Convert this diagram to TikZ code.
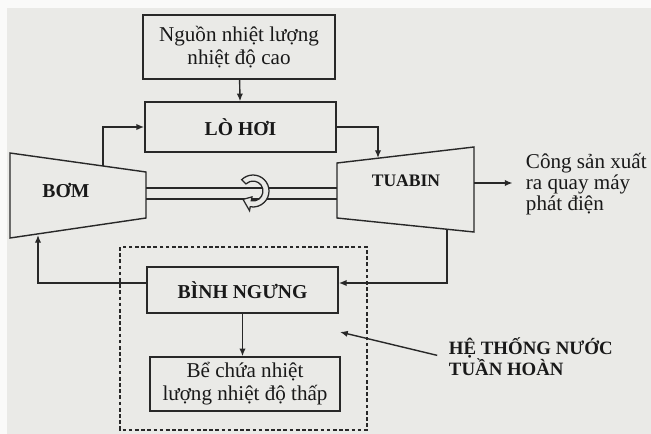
\documentclass[tikz,border=0pt]{standalone}
\usepackage{fontspec}
\setmainfont{Liberation Serif}
\usetikzlibrary{arrows.meta,calc}

\definecolor{cyclePaper}{RGB}{234,234,231}
\definecolor{cycleEdge}{RGB}{250,250,249}
\definecolor{cycleInk}{RGB}{40,40,40}
\definecolor{cycleText}{RGB}{25,25,25}

\begin{document}
\begin{tikzpicture}[x=.025cm,y=-.025cm,
      box/.style={draw=cycleInk, line width=1pt, align=center,
        font=\fontsize{15}{16.5}\selectfont, text=cycleText, inner sep=2pt},
      title/.style={font=\fontsize{14}{15}\selectfont\bfseries, text=cycleText},
      note/.style={font=\fontsize{15}{15}\selectfont, text=cycleText,
        align=left, anchor=west},
      machine/.style={draw=cycleInk, line width=1pt},
      shaft/.style={draw=cycleInk, line width=1pt},
      flow/.style={draw=cycleInk, line width=1pt,
        -{Latex[length=5.5pt,width=4.5pt]}},
      loopbox/.style={draw=cycleInk, line width=1pt,
        dash pattern=on 2.6pt off 1.8pt},
      spin/.style={draw=cycleInk, line width=.9pt, fill=cyclePaper}]
      \useasboundingbox (0,0) rectangle (651,434);
      \fill[cyclePaper] (0,0) rectangle (651,434);
      \fill[cycleEdge] (0,0) rectangle (651,8);
      \fill[cycleEdge] (0,0) rectangle (7,434);

      % boxes
      \node[box, minimum width=4.8cm, minimum height=1.6cm] (src) at (239,47)
        {Nguồn nhiệt lượng\\nhiệt độ cao};
      \node[box, title, minimum width=4.78cm, minimum height=1.25cm] (boiler)
        at (240.5,127) {LÒ HƠI};
      \node[box, title, minimum width=4.78cm, minimum height=1.15cm] (cond)
        at (242.5,290) {BÌNH NGƯNG};
      \node[box, minimum width=4.75cm, minimum height=1.35cm] (store)
        at (245,384) {Bể chứa nhiệt\\lượng nhiệt độ thấp};

      % pump and turbine
      \draw[machine] (10,153) -- (146,172) -- (146,218) -- (10,238) -- cycle;
      \node[title] (pump) at (66,190) {BƠM};
      \draw[machine] (337,163) -- (474,147) -- (474,232) -- (337,218) -- cycle;
      \node[title, font=\fontsize{12.5}{13}\selectfont\bfseries] (turb)
        at (406,181) {TUABIN};
      \coordinate (pumpTop) at (103,166);
      \coordinate (pumpBot) at (38,235);
      \coordinate (turbTop) at (378,158);
      \coordinate (turbBot) at (447,229);
      \coordinate (turbOut) at (474,183);

      % shaft with rotation mark
      \coordinate (shaftA) at (146,188);
      \coordinate (shaftB) at (337,188);
      \coordinate (shaftC) at (146,199);
      \coordinate (shaftD) at (337,199);
      \draw[shaft] (shaftA) -- (shaftB);
      \draw[shaft] (shaftC) -- (shaftD);
      \coordinate (rot) at (253,191);
      \path[spin] ($(rot)+(135:.4cm)$) arc[start angle=135, end angle=-100, radius=.4cm]
        -- ($(rot)+(-100:.5cm)$) -- ($(rot)+(-140:.325cm)$)
        -- ($(rot)+(-100:.15cm)$) -- ($(rot)+(-100:.25cm)$)
        arc[start angle=-100, end angle=135, radius=.25cm] -- cycle;

      % output
      \node[note] (work) at (521,184) {Công sản xuất\\ra quay máy\\phát điện};

      % circulation system
      \draw[loopbox] (120,247) rectangle (367,430);
      \node[note, font=\fontsize{13.4}{15}\selectfont\bfseries] (sys) at (444,357)
        {HỆ THỐNG NƯỚC\\TUẦN HOÀN};
      \coordinate (sysTip) at (340,332);

      % connectors
      \draw[flow] (src) -- (boiler);
      \draw[flow] (pumpTop) |- (boiler.west);
      \draw[flow] (boiler.east) -| (turbTop);
      \draw[flow, shorten >=6pt] (turbOut) -- (work.west |- turbOut);
      \draw[flow] (turbBot) |- ([yshift=.175cm]cond.east);
      \draw[flow] ([yshift=.175cm]cond.west) -| (pumpBot);
      \draw[flow] (cond.south) -- (cond.south |- store.north);
      \draw[flow, shorten <=5pt] (sys.west) -- (sysTip);
    \end{tikzpicture}
\end{document}
